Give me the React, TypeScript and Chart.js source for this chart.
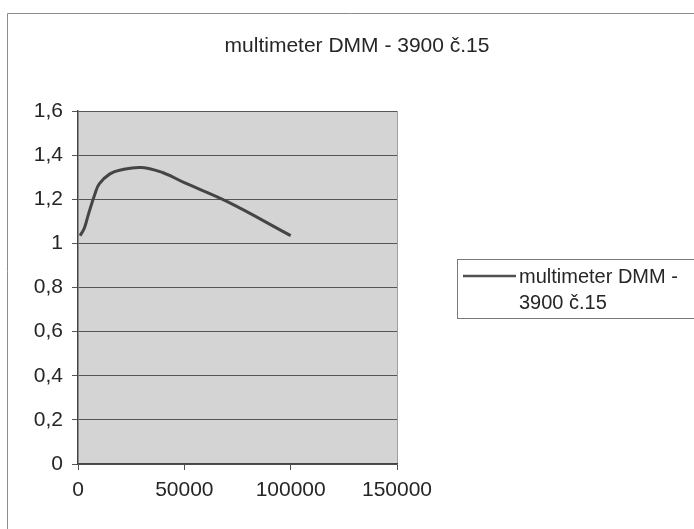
import React, { useEffect, useRef } from "react";
import { Chart, registerables } from "chart.js";

Chart.register(...registerables);

const chartTitle = "multimeter DMM - 3900 č.15";
const seriesLabel = "multimeter DMM - 3900 č.15";
const legendLines = ["multimeter DMM -", "3900 č.15"];
const xValues = [1000, 3000, 5000, 8000, 10000, 15000, 20000, 30000, 40000, 50000, 70000, 100000];
const yValues = [1.035, 1.07, 1.135, 1.225, 1.27, 1.315, 1.333, 1.344, 1.32, 1.275, 1.19, 1.035];
const xTickValues = [0, 50000, 100000, 150000];
const yTickValues = [0, 0.2, 0.4, 0.6, 0.8, 1, 1.2, 1.4, 1.6];

const FONT = "'Liberation Sans', Arial, sans-serif";
const TEXT = "#262626";

const decor = {
  id: "decor",
  beforeDraw(chart: any) {
    const { ctx, chartArea } = chart;
    ctx.save();
    ctx.fillStyle = "#ffffff";
    ctx.fillRect(0, 0, chart.width, chart.height);
    ctx.fillStyle = "#d4d4d4";
    ctx.fillRect(chartArea.left, chartArea.top, chartArea.right - chartArea.left, chartArea.bottom - chartArea.top);
    ctx.strokeStyle = "#a0a0a0";
    ctx.lineWidth = 1;
    ctx.beginPath();
    ctx.moveTo(Math.round(chartArea.right) + 0.5, chartArea.top);
    ctx.lineTo(Math.round(chartArea.right) + 0.5, chartArea.bottom);
    ctx.stroke();
    // outer chart border
    ctx.strokeStyle = "#8c8c8c";
    ctx.beginPath();
    ctx.moveTo(7.5, chart.height);
    ctx.lineTo(7.5, 13.5);
    ctx.lineTo(chart.width, 13.5);
    ctx.stroke();
    ctx.restore();
  },
  afterDraw(chart: any) {
    const { ctx } = chart;
    ctx.save();
    // title
    ctx.fillStyle = TEXT;
    ctx.font = `21px ${FONT}`;
    ctx.textAlign = "center";
    ctx.textBaseline = "middle";
    ctx.fillText(chartTitle, 357, 46);
    // legend box
    ctx.strokeStyle = "#7a7a7a";
    ctx.lineWidth = 1;
    ctx.strokeRect(457.5, 259.5, 262, 59);
    ctx.strokeStyle = "#505050";
    ctx.lineWidth = 2.5;
    ctx.beginPath();
    ctx.moveTo(463, 276);
    ctx.lineTo(516, 276);
    ctx.stroke();
    ctx.fillStyle = TEXT;
    ctx.font = `20px ${FONT}`;
    ctx.textAlign = "left";
    ctx.fillText(legendLines[0], 519, 277);
    ctx.fillText(legendLines[1], 519, 303);
    ctx.restore();
  },
};

export default function App() {
  const ref = useRef<HTMLCanvasElement | null>(null);
  useEffect(() => {
    if (!ref.current) return;
    const chart = new Chart(ref.current, {
      type: "line",
      data: {
        datasets: [
          {
            label: seriesLabel,
            data: xValues.map((x, i) => ({ x, y: yValues[i] })),
            borderColor: "#454545",
            borderWidth: 3,
            pointRadius: 0,
            tension: 0.4,
            fill: false,
          },
        ],
      },
      options: {
        animation: false,
        responsive: false,
        devicePixelRatio: 1,
        layout: { padding: { left: 0, top: 111, right: 297, bottom: 0 } },
        plugins: { legend: { display: false }, title: { display: false }, tooltip: { enabled: false } },
        scales: {
          x: {
            type: "linear",
            min: 0,
            max: 150000,
            afterBuildTicks: (s: any) => {
              s.ticks = xTickValues.map((v) => ({ value: v }));
            },
            afterFit: (s: any) => {
              s.height = 65;
            },
            ticks: {
              color: TEXT,
              font: { family: FONT, size: 21 },
              padding: 8,
              maxRotation: 0,
              callback: (v: any) => String(v),
            },
            grid: { drawOnChartArea: false, drawTicks: true, tickLength: 6, color: "#505050" },
            border: { display: true, color: "#444444", width: 1.5 },
          },
          y: {
            type: "linear",
            min: 0,
            max: 1.6,
            afterBuildTicks: (s: any) => {
              s.ticks = yTickValues.map((v) => ({ value: v }));
            },
            afterFit: (s: any) => {
              s.width = 78;
            },
            ticks: {
              color: TEXT,
              font: { family: FONT, size: 21 },
              padding: 9,
              callback: (v: any) => String(Number(Number(v).toFixed(1))).replace(".", ","),
            },
            grid: { drawTicks: true, tickLength: 6, color: "#555555", lineWidth: 1 },
            border: { display: true, color: "#444444", width: 1.5 },
          },
        },
      },
      plugins: [decor],
    });
    return () => chart.destroy();
  }, []);
  return (
    <div style={{ position: "absolute", left: 0, top: 0, width: 694, height: 529, background: "#fff" }}>
      <canvas ref={ref} width={694} height={529} style={{ display: "block" }} />
    </div>
  );
}
